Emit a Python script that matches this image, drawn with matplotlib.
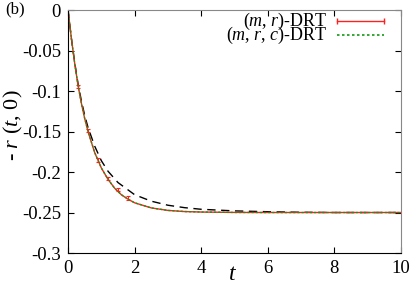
import matplotlib
matplotlib.use("Agg")
import matplotlib.pyplot as plt

plt.rcParams['font.family'] = ['Liberation Serif', 'DejaVu Serif']
plt.rcParams['mathtext.fontset'] = 'custom'
plt.rcParams['mathtext.it'] = 'Liberation Serif:italic'
plt.rcParams['mathtext.rm'] = 'Liberation Serif'

# (m, r)-DRT curve
t_mr = [0, 0.1, 0.2, 0.3, 0.4, 0.5, 0.6, 0.8, 1.0, 1.2, 1.4, 1.6, 1.8, 2.0,
        2.5, 3.0, 3.5, 4.0, 5.0, 6.0, 7.0, 8.0, 9.0, 10.0]
r_mr = [0, -0.035, -0.066, -0.093, -0.115, -0.134, -0.150, -0.176, -0.195,
        -0.209, -0.220, -0.228, -0.2335, -0.238, -0.2443, -0.2474, -0.2488,
        -0.2494, -0.2499, -0.25, -0.25, -0.25, -0.25, -0.25]
# error bar points of (m, r)-DRT
t_err = [0.3, 0.6, 0.9, 1.2, 1.5, 1.8]
r_err = [-0.094, -0.149, -0.185, -0.208, -0.222, -0.232]
e_err = [0.002, 0.002, 0.002, 0.002, 0.002, 0.002]

# (m, r, c)-DRT curve
t_mrc = t_mr
r_mrc = [0, -0.035, -0.066, -0.093, -0.115, -0.134, -0.150, -0.176, -0.195,
         -0.209, -0.220, -0.228, -0.2335, -0.238, -0.2443, -0.2474, -0.2488,
         -0.2494, -0.2499, -0.25, -0.25, -0.25, -0.25, -0.25]

# reference (dashed) curve
t_ref = [0, 0.1, 0.2, 0.3, 0.4, 0.5, 0.6, 0.8, 1.0, 1.2, 1.5, 2.0, 2.5, 3.0,
         3.5, 4.0, 5.0, 6.0, 7.0, 8.0, 9.0, 10.0]
r_ref = [0, -0.035, -0.065, -0.091, -0.112, -0.130, -0.145, -0.168, -0.186,
         -0.199, -0.213, -0.228, -0.236, -0.241, -0.244, -0.246, -0.248,
         -0.249, -0.2497, -0.25, -0.25, -0.25]

labels = [r'($m$, $r$)-DRT', r'($m$, $r$, $c$)-DRT']
red = '#ff2020'
green = '#109a10'

fig = plt.figure(figsize=(4.15, 2.88), dpi=100)
ax = fig.add_axes([0.164, 0.1215, 0.802, 0.8435])

ax.plot(t_ref, r_ref, color='black', lw=1.0, dashes=(6, 4))
ax.errorbar(t_err, r_err, yerr=e_err, fmt='none', ecolor=red, elinewidth=0.8,
            capsize=1.2, capthick=0.8)
ax.plot(t_mr, r_mr, color=red, lw=1.0)
ax.plot(t_mrc, r_mrc, color=green, lw=1.0, ls=(0, (1.5, 1.5)))

# legend drawn by hand (gnuplot style, key line on the right)
ax.text(0.779, 0.955, labels[0], transform=ax.transAxes, ha='right',
        va='center', fontsize=13)
ax.text(0.779, 0.897, labels[1], transform=ax.transAxes, ha='right',
        va='center', fontsize=13)
ax.plot([0.808, 0.949], [0.955, 0.955], transform=ax.transAxes, color=red,
        lw=1.0, clip_on=False)
ax.plot([0.808, 0.949], [0.955, 0.955], transform=ax.transAxes, color=red,
        lw=0, marker='|', ms=5, mew=1.0, clip_on=False)
ax.plot([0.808, 0.949], [0.897, 0.897], transform=ax.transAxes, color=green,
        lw=1.2, ls=(0, (1.5, 1.5)), clip_on=False)

ax.set_xlim(0, 10)
ax.set_ylim(-0.3, 0)
ax.set_xticks([0, 2, 4, 6, 8, 10])
ax.set_yticks([0, -0.05, -0.1, -0.15, -0.2, -0.25, -0.3])
ax.set_yticklabels(['0', '-0.05', '-0.1', '-0.15', '-0.2', '-0.25', '-0.3'])
ax.tick_params(direction='in', top=True, right=True, labelsize=13.5, length=4,
               pad=5)
for s in ['top', 'right']:
    ax.spines[s].set_color('#888888')

fig.text(233 / 415, 1 - 274 / 288, r'$t$', fontsize=17, ha='center',
         va='center')
fig.text(13 / 415, 1 - 125 / 288, r'- $r$ ($t$, 0)', fontsize=16,
         rotation=90, ha='center', va='center')
fig.text(0.012, 0.955, '(b)', fontsize=12)

fig.savefig('out.png', dpi=100)
